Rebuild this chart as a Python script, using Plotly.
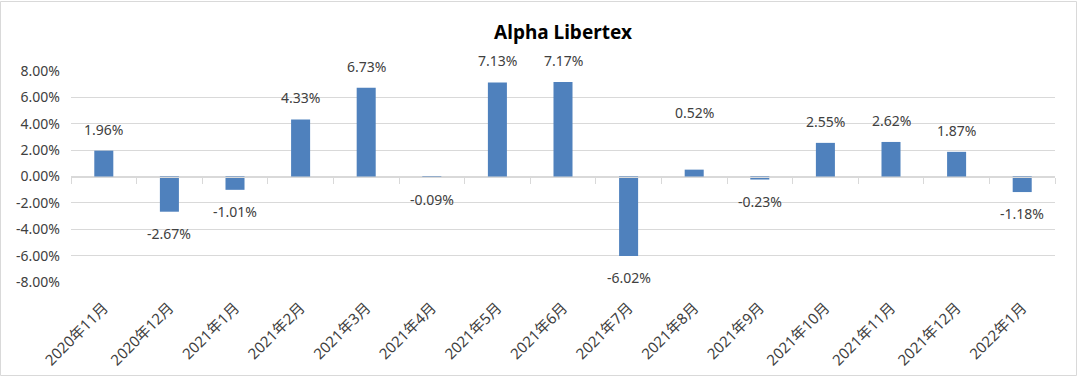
import plotly.graph_objects as go

categories = ["2020年11月", "2020年12月", "2021年1月", "2021年2月", "2021年3月",
              "2021年4月", "2021年5月", "2021年6月", "2021年7月", "2021年8月",
              "2021年9月", "2021年10月", "2021年11月", "2021年12月", "2022年1月"]
returns_pct = [1.96, -2.67, -1.01, 4.33, 6.73, -0.09, 7.13, 7.17, -6.02, 0.52,
               -0.23, 2.55, 2.62, 1.87, -1.18]
y_ticks = [-8, -6, -4, -2, 0, 2, 4, 6, 8]
title_text = "Alpha Libertex"

W, H = 1078, 377
ML, MR, MT, MB = 71, 23, 71, 95
FONT = "Noto Sans, Noto Sans CJK SC, sans-serif"
BAR = "#4f81bd"
GRID = "#d9d9d9"
TXT = "#404040"

fig = go.Figure()
fig.add_trace(go.Bar(x=categories, y=returns_pct, marker_color=BAR,
                     marker_line_width=0, width=0.29, xaxis="x", yaxis="y",
                     hoverinfo="skip"))
fig.add_trace(go.Scatter(x=categories, y=[0] * len(categories), mode="none",
                         xaxis="x2", yaxis="y", hoverinfo="skip", showlegend=False))

# extra lift applied to one label that sits higher in the original
label_lift = {"2021年8月": 36}
annotations = []
for c, v in zip(categories, returns_pct):
    pos = v >= 0
    annotations.append(dict(
        x=c, y=v, xref="x", yref="y", text=f"{v:.2f}%", showarrow=False,
        yanchor="bottom" if pos else "top",
        yshift=(10 + label_lift.get(c, 0)) if pos else -10,
        font=dict(family=FONT, size=14, color=TXT)))

pw = W - ML - MR
ph = H - MT - MB
fig.update_layout(
    width=W, height=H,
    margin=dict(l=ML, r=MR, t=MT, b=MB, pad=0, autoexpand=False),
    paper_bgcolor="white", plot_bgcolor="white",
    showlegend=False,
    title=dict(text=f"<b>{title_text}</b>", x=0.5, xref="paper", xanchor="center",
               y=1 - 32 / H, yref="container", yanchor="middle",
               font=dict(family=FONT, size=19, color="#000000")),
    xaxis=dict(type="category", range=[-0.5, len(categories) - 0.5],
               showgrid=False, showline=False, ticks="", tickangle=-45,
               ticklabelstandoff=13, automargin=False,
               tickfont=dict(family=FONT, size=15, color=TXT),
               categoryorder="array", categoryarray=categories),
    xaxis2=dict(type="category", overlaying="x", anchor="free", position=0.5,
                range=[-0.5, len(categories) - 0.5], showgrid=False,
                showline=True, linecolor=GRID, linewidth=1,
                ticks="outside", tickson="boundaries", ticklen=6,
                tickcolor=GRID, tickwidth=1, showticklabels=False,
                categoryorder="array", categoryarray=categories),
    yaxis=dict(range=[-8, 8], tickvals=y_ticks,
               ticktext=[f"{v:.2f}%" for v in y_ticks],
               showgrid=True, gridcolor=GRID, gridwidth=1, zeroline=False,
               showline=False, ticks="", ticklabelstandoff=10, automargin=False,
               tickfont=dict(family=FONT, size=14, color=TXT)),
    annotations=annotations,
    shapes=[dict(type="rect", xref="paper", yref="paper",
                 x0=-(ML - 0.5) / pw, x1=1 + (MR - 1.5) / pw,
                 y0=-(MB - 1.5) / ph, y1=1 + (MT - 1.5) / ph,
                 line=dict(color=GRID, width=1), layer="below")],
)

fig.write_html("out.html", config={"displayModeBar": False, "staticPlot": True},
               post_script="document.body.style.margin='0';document.body.style.overflow='hidden';")
